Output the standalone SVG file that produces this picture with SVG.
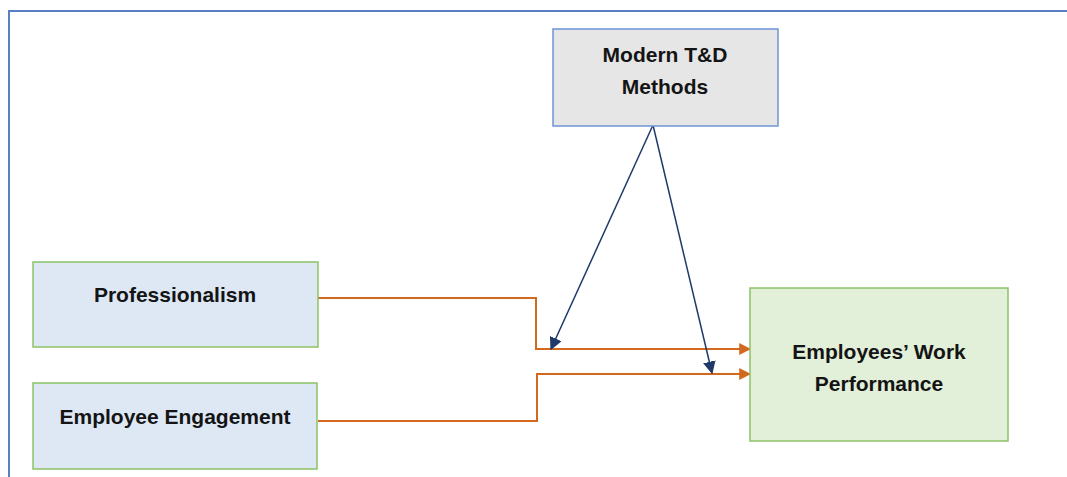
<svg xmlns="http://www.w3.org/2000/svg" width="1067" height="477" viewBox="0 0 1067 477">
  <style>
    .label { font-family: "Liberation Sans", Arial, sans-serif; font-weight: bold; font-size: 21px; fill: #141414; text-anchor: middle; }
    .frame { fill: none; stroke: #5b7fc4; stroke-width: 2; }
    .moderator { fill: #e6e6e6; stroke: #6f94d6; stroke-width: 1.5; }
    .input { fill: #dde8f4; stroke: #8cc265; stroke-width: 1.5; }
    .outcome { fill: #e2efd9; stroke: #8cc265; stroke-width: 1.5; }
    .direct { fill: none; stroke: #d2691e; stroke-width: 2; }
    .moderating { fill: none; stroke: #1f3a6a; stroke-width: 1.5; }
  </style>
  <defs>
    <marker id="arrowOrange" viewBox="0 0 10 10" refX="9" refY="5" markerWidth="6" markerHeight="6" orient="auto" markerUnits="strokeWidth">
      <path d="M0,0 L10,5 L0,10 z" fill="#d2691e"/>
    </marker>
    <marker id="arrowBlue" viewBox="0 0 10 10" refX="9" refY="5" markerWidth="8.5" markerHeight="8.5" orient="auto" markerUnits="strokeWidth">
      <path d="M0,0 L10,5 L0,10 z" fill="#1f3a6a"/>
    </marker>
  </defs>

  <rect width="1067" height="477" fill="#ffffff"/>

  <!-- outer frame -->
  <path class="frame" d="M9,477 L9,11 L1067,11"/>

  <!-- connectors -->
  <g id="connectors">
    <path class="direct" d="M318,298 L536,298 L536,349 L750,349" marker-end="url(#arrowOrange)"/>
    <path class="direct" d="M318,421 L537,421 L537,374 L750,374" marker-end="url(#arrowOrange)"/>
    <path class="direct" d="M537,421 L537,374" stroke="#eda878"/>
    <path class="moderating" d="M653,125 L551,349" marker-end="url(#arrowBlue)"/>
    <path class="moderating" d="M653,125 L712,373" marker-end="url(#arrowBlue)"/>
  </g>

  <g id="node-modern-td">
    <rect class="moderator" x="553" y="29" width="225" height="97"/>
    <text class="label" x="665" y="62">Modern T&amp;D</text>
    <text class="label" x="665" y="94">Methods</text>
  </g>

  <g id="node-professionalism">
    <rect class="input" x="33" y="262" width="285" height="85"/>
    <text class="label" x="175" y="302">Professionalism</text>
  </g>

  <g id="node-engagement">
    <rect class="input" x="33" y="383" width="284" height="86"/>
    <text class="label" x="175" y="424">Employee Engagement</text>
  </g>

  <g id="node-performance">
    <rect class="outcome" x="750" y="288" width="258" height="153"/>
    <text class="label" x="879" y="359">Employees’ Work</text>
    <text class="label" x="879" y="391">Performance</text>
  </g>
</svg>
